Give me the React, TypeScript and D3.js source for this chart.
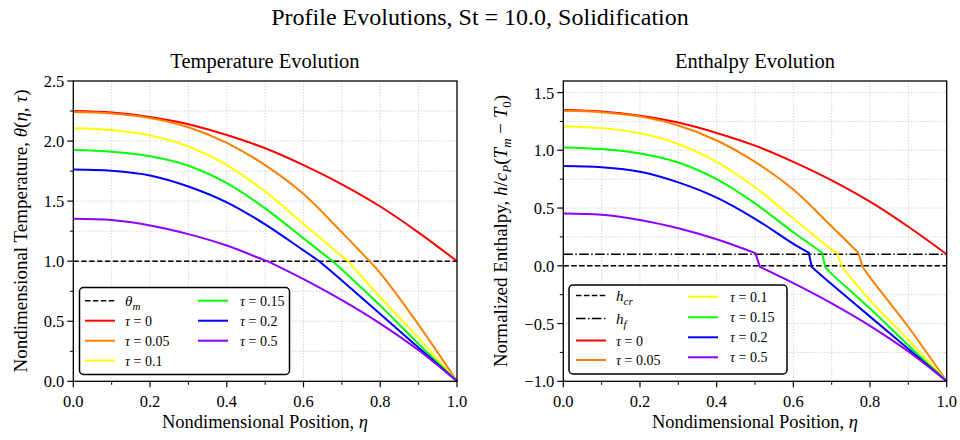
import React from 'react';
import * as d3 from 'd3';

// ---------- data ----------
const ETA = [0, 0.1, 0.2, 0.3, 0.4, 0.5, 0.6, 0.7, 0.8, 0.9, 1.0];
const TAU_LABELS = ['0', '0.05', '0.1', '0.15', '0.2', '0.5'];
const COLORS = ['#ff0000', '#ff8000', '#ffff00', '#00ff00', '#0000ff', '#8f00ff'];

const THETA_TAU0 = [2.25, 2.237, 2.2, 2.14, 2.05, 1.94, 1.8, 1.64, 1.455, 1.238, 1.0];
const THETA_TAU005 = [2.242, 2.23, 2.192, 2.115, 1.985, 1.8, 1.56, 1.24, 0.9, 0.47, 0.0];
const THETA_TAU01 = [2.107, 2.092, 2.047, 1.955, 1.8, 1.58, 1.31, 1.04, 0.7, 0.36, 0.0];
const THETA_TAU015 = [1.925, 1.911, 1.873, 1.795, 1.65, 1.44, 1.19, 0.93, 0.63, 0.31, 0.0];
const THETA_TAU02 = [1.764, 1.753, 1.714, 1.622, 1.49, 1.307, 1.09, 0.84, 0.56, 0.28, 0.0];
const THETA_TAU05 = [1.353, 1.342, 1.297, 1.225, 1.13, 1.006, 0.85, 0.675, 0.48, 0.258, 0.0];
const THETA = [THETA_TAU0, THETA_TAU005, THETA_TAU01, THETA_TAU015, THETA_TAU02, THETA_TAU05];
// solidification front (where theta crosses theta_m); NaN = no front
const FRONT_ETA = [NaN, 0.772, 0.716, 0.676, 0.641, 0.506];

const H_TAU0 = [1.35, 1.337, 1.3, 1.24, 1.15, 1.04, 0.9, 0.74, 0.555, 0.338, 0.1];
const H_TAU005 = [1.342, 1.33, 1.292, 1.215, 1.085, 0.9, 0.66, 0.34, -0.1, -0.53, -1.0];
const H_TAU01 = [1.207, 1.192, 1.147, 1.055, 0.9, 0.68, 0.41, 0.14, -0.3, -0.64, -1.0];
const H_TAU015 = [1.025, 1.011, 0.973, 0.895, 0.75, 0.54, 0.29, -0.07, -0.37, -0.69, -1.0];
const H_TAU02 = [0.864, 0.853, 0.814, 0.722, 0.59, 0.407, 0.19, -0.16, -0.44, -0.72, -1.0];
const H_TAU05 = [0.453, 0.442, 0.397, 0.325, 0.23, 0.106, -0.15, -0.325, -0.52, -0.742, -1.0];
const H = [H_TAU0, H_TAU005, H_TAU01, H_TAU015, H_TAU02, H_TAU05];
// enthalpy jump across the front cell
const KINK_LIQ_ETA = [NaN, 0.769, 0.714, 0.675, 0.64, 0.501];
const KINK_LIQ_H = [NaN, 0.115, 0.115, 0.115, 0.115, 0.11];
const KINK_SOL_ETA = [NaN, 0.781, 0.727, 0.683, 0.648, 0.513];
const KINK_SOL_H = [NaN, -0.01, -0.01, -0.01, -0.01, -0.01];

const THETA_M = 1.0;
const H_CR = 0.0;
const H_F = 0.1;

const X_TICKS = [0, 0.2, 0.4, 0.6, 0.8, 1.0];
const X_MINOR = [0.1, 0.3, 0.5, 0.7, 0.9];
const X_GRID = [0.1, 0.2, 0.3, 0.4, 0.5, 0.6, 0.7, 0.8, 0.9];
const T_TICKS = [0, 0.5, 1.0, 1.5, 2.0, 2.5];
const T_MINOR = [0.25, 0.75, 1.25, 1.75, 2.25];
const H_TICKS = [-1.0, -0.5, 0.0, 0.5, 1.0, 1.5];
const H_MINOR = [-0.75, -0.25, 0.25, 0.75, 1.25];

const FONT = 'Liberation Serif';

type Pt = [number, number];

function seriesPath(
  x: d3.ScaleLinear<number, number>,
  y: d3.ScaleLinear<number, number>,
  vals: number[],
  e1: number, v1: number, e2: number, v2: number
): string {
  const line = d3.line<Pt>().x(d => x(d[0])).y(d => y(d[1])).curve(d3.curveCatmullRom.alpha(0.5));
  const pts: Pt[] = ETA.map((e, i) => [e, vals[i]] as Pt);
  if (isNaN(e1)) return line(pts) || '';
  const liq: Pt[] = pts.filter(p => p[0] < e1 - 0.005);
  liq.push([e1, v1]);
  const sol: Pt[] = [[e2, v2]];
  pts.filter(p => p[0] > e2 + 0.005).forEach(p => sol.push(p));
  const a = line(liq) || '';
  const b = (line(sol) || '').replace(/^M/, 'L');
  return a + b;
}

const fmt = (v: number) => (v < 0 ? '\u2212' : '') + Math.abs(v).toFixed(1);

function Axes(props: {
  x: d3.ScaleLinear<number, number>;
  y: d3.ScaleLinear<number, number>;
  yTicks: number[];
  yMinor: number[];
  children?: React.ReactNode;
}) {
  const { x, y, yTicks, yMinor } = props;
  const [x0, x1] = x.range();
  const [y0, y1] = y.range();
  const grid = { stroke: '#b0b0b0', strokeWidth: 0.8, strokeDasharray: '1,2' };
  const yGrid = [...yTicks, ...yMinor].filter(v => y(v) > y1 + 0.5 && y(v) < y0 - 0.5);
  return (
    <g>
      {X_GRID.map(v => (
        <line key={'gx' + v} x1={x(v)} x2={x(v)} y1={y0} y2={y1} {...grid} />
      ))}
      {yGrid.map(v => (
        <line key={'gy' + v} x1={x0} x2={x1} y1={y(v)} y2={y(v)} {...grid} />
      ))}
      {props.children}
      <rect x={x0} y={y1} width={x1 - x0} height={y0 - y1} fill="none" stroke="#000" strokeWidth={1.3} />
      {X_TICKS.map(v => (
        <g key={'xt' + v}>
          <line x1={x(v)} x2={x(v)} y1={y0} y2={y0 + 6} stroke="#000" strokeWidth={1.2} />
          <text x={x(v)} y={y0 + 26} textAnchor="middle" fontSize={16.5}>{fmt(v)}</text>
        </g>
      ))}
      {X_MINOR.map(v => (
        <line key={'xm' + v} x1={x(v)} x2={x(v)} y1={y0} y2={y0 + 3.5} stroke="#000" strokeWidth={1} />
      ))}
      {yTicks.map(v => (
        <g key={'yt' + v}>
          <line x1={x0 - 6} x2={x0} y1={y(v)} y2={y(v)} stroke="#000" strokeWidth={1.2} />
          <text x={x0 - 9} y={y(v) + 6} textAnchor="end" fontSize={16.5}>{fmt(v)}</text>
        </g>
      ))}
      {yMinor.map(v => (
        <line key={'ym' + v} x1={x0 - 3.5} x2={x0} y1={y(v)} y2={y(v)} stroke="#000" strokeWidth={1} />
      ))}
    </g>
  );
}

function Sym(props: { s: string; sub: string }) {
  return (
    <>
      <tspan fontStyle="italic" fontSize={15}>{props.s}</tspan>
      <tspan fontStyle="italic" fontSize={11} dy={4}>{props.sub}</tspan>
    </>
  );
}

function TauLabel(props: { v: string }) {
  return (
    <>
      <tspan fontStyle="italic">τ</tspan>
      <tspan>{' = ' + props.v}</tspan>
    </>
  );
}

type LegendItem = { color: string; dash?: string; width: number; label: React.ReactNode; col: number; row: number };

function Legend(props: {
  box: [number, number, number, number];
  cols: { lx: number; tx: number; rows: number[] }[];
  items: LegendItem[];
}) {
  const [bx, by, bw, bh] = props.box;
  return (
    <g>
      <rect x={bx} y={by} width={bw} height={bh} rx={4} fill="#fff" stroke="#000" strokeWidth={1.5} />
      {props.items.map((it, i) => {
        const c = props.cols[it.col];
        const yy = c.rows[it.row];
        return (
          <g key={i}>
            <line x1={c.lx} x2={c.lx + 30} y1={yy} y2={yy} stroke={it.color} strokeWidth={it.width} strokeDasharray={it.dash} />
            <text x={c.tx} y={yy + 5} fontSize={14}>{it.label}</text>
          </g>
        );
      })}
    </g>
  );
}

export default function App() {
  const xL = d3.scaleLinear().domain([0, 1]).range([73.3, 457]);
  const yL = d3.scaleLinear().domain([0, 2.5]).range([381.3, 81]);
  const xR = d3.scaleLinear().domain([0, 1]).range([563.3, 946.7]);
  const yR = d3.scaleLinear().domain([-1, 1.6]).range([381.3, 81]);

  const dashed = '5.5,2.4';
  const dashdot = '9.6,2.4,1.5,2.4';

  const leftItems: LegendItem[] = [
    { color: '#000', dash: dashed, width: 1.5, label: <Sym s="θ" sub="m" />, col: 0, row: 0 },
    ...TAU_LABELS.map((t, i) => ({
      color: COLORS[i], width: 2, label: <TauLabel v={t} />,
      col: i < 3 ? 0 : 1, row: i < 3 ? i + 1 : i - 3,
    })),
  ];
  const rightItems: LegendItem[] = [
    { color: '#000', dash: dashed, width: 1.5, label: <Sym s="h" sub="cr" />, col: 0, row: 0 },
    { color: '#000', dash: dashdot, width: 1.5, label: <Sym s="h" sub="f" />, col: 0, row: 1 },
    ...TAU_LABELS.map((t, i) => ({
      color: COLORS[i], width: 2, label: <TauLabel v={t} />,
      col: i < 2 ? 0 : 1, row: i < 2 ? i + 2 : i - 2,
    })),
  ];

  return (
    <svg width={960} height={440} fontFamily={FONT}
      style={{ display: 'block', position: 'absolute', left: 0, top: 0, background: '#fff', fontFamily: FONT }}>
      <rect x={0} y={0} width={960} height={440} fill="#fff" />
      <text x={480} y={25} textAnchor="middle" fontSize={24}>
        Profile Evolutions, St = 10.0, Solidification
      </text>

      {/* Left: temperature */}
      <text x={265} y={68} textAnchor="middle" fontSize={20.5}>Temperature Evolution</text>
      <Axes x={xL} y={yL} yTicks={T_TICKS} yMinor={T_MINOR}>
        <line x1={xL(0)} x2={xL(1)} y1={yL(THETA_M)} y2={yL(THETA_M)} stroke="#000" strokeWidth={1.5} strokeDasharray={dashed} />
        {THETA.map((vals, i) => (
          <path key={i} d={seriesPath(xL, yL, vals, FRONT_ETA[i], THETA_M, FRONT_ETA[i], THETA_M)}
            fill="none" stroke={COLORS[i]} strokeWidth={2} />
        ))}
      </Axes>
      <Legend
        box={[79.5, 287.5, 210, 87]}
        cols={[
          { lx: 85, tx: 125, rows: [300.7, 320.7, 340.7, 360.5] },
          { lx: 198, tx: 240, rows: [300.7, 320.7, 340.7] },
        ]}
        items={leftItems}
      />
      <text x={265} y={428} textAnchor="middle" fontSize={18.5}>
        Nondimensional Position, <tspan fontStyle="italic">η</tspan>
      </text>
      <text transform={`translate(27,${231}) rotate(-90)`} textAnchor="middle" fontSize={19}>
        Nondimensional Temperature, <tspan fontStyle="italic">θ</tspan>(<tspan fontStyle="italic">η</tspan>, <tspan fontStyle="italic">τ</tspan>)
      </text>

      {/* Right: enthalpy */}
      <text x={755} y={68} textAnchor="middle" fontSize={20.5}>Enthalpy Evolution</text>
      <Axes x={xR} y={yR} yTicks={H_TICKS} yMinor={H_MINOR}>
        <line x1={xR(0)} x2={xR(1)} y1={yR(H_CR)} y2={yR(H_CR)} stroke="#000" strokeWidth={1.5} strokeDasharray={dashed} />
        <line x1={xR(0)} x2={xR(1)} y1={yR(H_F)} y2={yR(H_F)} stroke="#000" strokeWidth={1.5} strokeDasharray={dashdot} />
        {H.map((vals, i) => (
          <path key={i} d={seriesPath(xR, yR, vals, KINK_LIQ_ETA[i], KINK_LIQ_H[i], KINK_SOL_ETA[i], KINK_SOL_H[i])}
            fill="none" stroke={COLORS[i]} strokeWidth={2} />
        ))}
      </Axes>
      <Legend
        box={[569, 285, 218, 89]}
        cols={[
          { lx: 576, tx: 616, rows: [295.5, 318.5, 340.5, 360] },
          { lx: 688, tx: 730, rows: [296.7, 317.3, 337.3, 357.3] },
        ]}
        items={rightItems}
      />
      <text x={755} y={428} textAnchor="middle" fontSize={18.5}>
        Nondimensional Position, <tspan fontStyle="italic">η</tspan>
      </text>
      <text transform={`translate(507,${231}) rotate(-90)`} textAnchor="middle" fontSize={19}>
        Normalized Enthalpy, <tspan fontStyle="italic">h</tspan>/<tspan fontStyle="italic">c</tspan>
        <tspan fontStyle="italic" fontSize={13} dy={4}>P</tspan>
        <tspan dy={-4}>(</tspan><tspan fontStyle="italic">T</tspan>
        <tspan fontStyle="italic" fontSize={13} dy={4}>m</tspan>
        <tspan dy={-4}>{' \u2212 '}</tspan><tspan fontStyle="italic">T</tspan>
        <tspan fontSize={13} dy={4}>0</tspan>
        <tspan dy={-4}>)</tspan>
      </text>
    </svg>
  );
}
